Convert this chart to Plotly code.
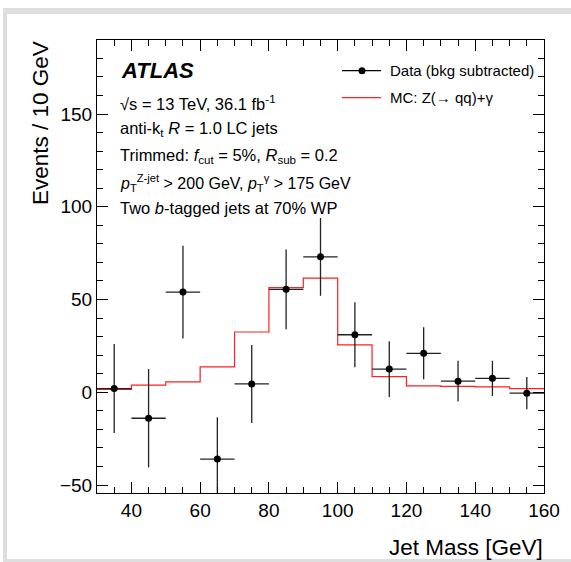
import plotly.graph_objects as go

# ---- data ----
bin_edges = [30, 40, 50, 60, 70, 80, 90, 100, 110, 120, 130, 140, 150, 160]
bin_centers = [35, 45, 55, 65, 75, 85, 95, 105, 115, 125, 135, 145, 155]
data_values = [2.0, -14.0, 54.0, -36.0, 4.5, 55.5, 73.0, 31.0, 12.5, 21.0, 6.0, 7.5, -0.5]
data_errors = [24.0, 26.5, 25.0, 22.5, 21.0, 21.5, 21.0, 17.5, 15.0, 14.0, 11.0, 9.5, 8.7]
mc_values = [1.5, 3.8, 5.6, 13.7, 32.5, 56.4, 61.5, 25.5, 8.4, 3.4, 3.2, 2.9, 2.0]
x_ticks = [40, 60, 80, 100, 120, 140, 160]
y_ticks = [-50, 0, 50, 100, 150]

W, H = 571, 562
PL, PR, PT, PB = 97, 544, 40, 493
FONT = "Liberation Sans, Arial, Helvetica, sans-serif"


def fx(px):
    return (px - PL) / (PR - PL)


def fy(py):
    return (PB - py) / (PB - PT)


fig = go.Figure()

# MC step histogram
fig.add_trace(go.Scatter(
    x=bin_edges,
    y=mc_values + [mc_values[-1]],
    mode="lines",
    line=dict(color="#ff2020", width=1.2, shape="hv"),
    showlegend=False,
    hoverinfo="skip",
))

# Data points
fig.add_trace(go.Scatter(
    x=bin_centers,
    y=data_values,
    mode="markers",
    marker=dict(color="black", size=7),
    error_y=dict(type="data", array=data_errors, visible=True, width=0,
                 color="#222222", thickness=1.3),
    error_x=dict(type="constant", value=5, visible=True, width=0,
                 color="#222222", thickness=1.3),
    showlegend=False,
))

axis_common = dict(
    showline=True, linecolor="black", linewidth=1, mirror="ticks",
    ticks="inside", ticklen=11, tickwidth=1, tickcolor="black",
    showgrid=False, zeroline=False,
    tickfont=dict(family=FONT, size=19, color="black"),
)

fig.update_xaxes(range=[30, 160], tickvals=x_ticks, ticktext=[str(v) for v in x_ticks],
                 minor=dict(ticks="inside", ticklen=6, dtick=5, tickcolor="black", tick0=0),
                 **axis_common)
fig.update_yaxes(range=[-54.3, 189.9], tickvals=y_ticks,
                 ticktext=["\u221250", "0", "50", "100", "150"],
                 minor=dict(ticks="inside", ticklen=6, dtick=10, tickcolor="black", tick0=0),
                 **axis_common)

shapes = []
# light gray page frame
gray = "#dedede"
shapes.append(dict(type="rect", xref="paper", yref="paper", x0=fx(3), x1=fx(571),
                   y0=fy(14), y1=fy(8), fillcolor=gray, line=dict(width=0), layer="below"))
shapes.append(dict(type="rect", xref="paper", yref="paper", x0=fx(3), x1=fx(7),
                   y0=fy(562), y1=fy(8), fillcolor=gray, line=dict(width=0), layer="below"))
shapes.append(dict(type="rect", xref="paper", yref="paper", x0=fx(3), x1=fx(571),
                   y0=fy(562), y1=fy(559), fillcolor=gray, line=dict(width=0), layer="below"))

# legend symbols
shapes.append(dict(type="line", xref="paper", yref="paper", x0=fx(342), x1=fx(381),
                   y0=fy(70.7), y1=fy(70.7), line=dict(color="black", width=1.2)))
shapes.append(dict(type="circle", xref="paper", yref="paper", x0=fx(358.5), x1=fx(365.5),
                   y0=fy(74.2), y1=fy(67.2), fillcolor="black", line=dict(color="black", width=0)))
shapes.append(dict(type="line", xref="paper", yref="paper", x0=fx(342), x1=fx(381),
                   y0=fy(97.7), y1=fy(97.7), line=dict(color="#ff2020", width=1.2)))

ann = []


def text(px, py, s, size=16.5, anchor="left", **kw):
    ann.append(dict(xref="paper", yref="paper", x=fx(px), y=fy(py), text=s,
                    showarrow=False, xanchor=anchor, yanchor="middle",
                    font=dict(family=FONT, size=size, color="black"), **kw))


text(119, 70.7, "<b><i>ATLAS</i></b>", size=22)
text(118, 102.7, "\u221as = 13 TeV, 36.1 fb<sup>-1</sup>")
text(118, 129.3, "anti-k<sub>t</sub> <i>R</i> = 1.0 LC jets")
text(118, 155.5, "Trimmed: <i>f</i><sub>cut</sub> = 5%, <i>R</i><sub>sub</sub> = 0.2")
text(118, 182.5, "<i>p</i><sub>T</sub><sup>Z-jet</sup> > 200 GeV, "
                 "<i>p</i><sub>T</sub><sup>\u03b3</sup> > 175 GeV", size=16)
text(118, 208.3, "Two <i>b</i>-tagged jets at 70% WP")

text(388, 70.7, "Data (bkg subtracted)", size=15)
text(388, 97.7, "MC: Z(\u2192 qq)+\u03b3", size=15)

# axis titles
ann.append(dict(xref="paper", yref="paper", x=fx(545), y=fy(547), text="Jet Mass [GeV]",
                showarrow=False, xanchor="right", yanchor="middle",
                font=dict(family=FONT, size=22.5, color="black")))
ann.append(dict(xref="paper", yref="paper", x=fx(40), y=fy(39), text="Events / 10 GeV",
                showarrow=False, xanchor="center", yanchor="top", textangle=-90,
                font=dict(family=FONT, size=22.5, color="black")))

fig.update_layout(
    width=W, height=H,
    margin=dict(l=PL, r=W - PR, t=PT, b=H - PB),
    paper_bgcolor="white", plot_bgcolor="white",
    shapes=shapes, annotations=ann,
    showlegend=False,
    font=dict(family=FONT),
)

fig.write_html("out.html")
